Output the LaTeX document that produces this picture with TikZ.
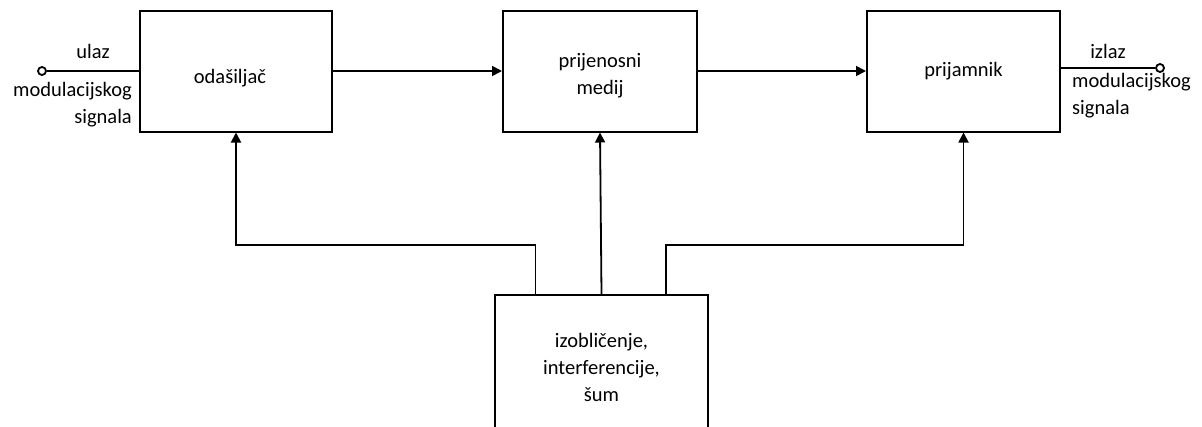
\documentclass[tikz,border=0pt]{standalone}
\usepackage{fontspec}
\setmainfont{Carlito}
\usetikzlibrary{arrows.meta}

\begin{document}
\begin{tikzpicture}[x=1pt,y=1pt,
		blok/.style={draw,line width=2pt,align=center,minimum width=192pt,minimum height=121pt,inner sep=0pt},
		veza/.style={line width=1.8pt,-{Triangle[length=10pt,width=10pt]}},
		oznaka/.style={inner sep=0pt,align=center}]
	\useasboundingbox (0,0) rectangle (1202,-426);
	\clip (0,0) rectangle (1202,-426);
	\fontsize{20.5}{27}\selectfont

	\node[blok] (odas) at (236,-71) {};
	\node[oznaka] (odastxt) at ([shift={(-6,-7)}]odas.center) {odašiljač};
	\node[blok,minimum width=194pt] (medij) at (600,-71) {};
	\node[oznaka] (medijtxt) at ([yshift=-5pt]medij.center) {prijenosni\\medij};
	\node[blok,minimum width=193pt] (prij) at (963.5,-71) {prijamnik};
	\node[blok,minimum width=213pt,minimum height=150pt] (smet) at (601.5,-370) {};
	\node[oznaka] (smettxt) at ([yshift=3pt]smet.center) {izobličenje,\\interferencije,\\šum};

	\node[circle,draw,line width=1.8pt,fill=white,inner sep=0pt,minimum size=8pt] (ulaz) at (42,-71) {};
	\node[circle,draw,line width=1.8pt,fill=white,inner sep=0pt,minimum size=8pt] (izlaz) at (1160,-68) {};

	\node[oznaka] (ulaztxt) at (93,-51) {ulaz};
	\node[oznaka,align=right,anchor=east] (ulazsig) at (132,-105) {modulacijskog\\signala};
	\node[oznaka] (izlaztxt) at (1108,-51) {izlaz};
	\node[oznaka,align=left,anchor=west] (izlazsig) at (1072,-96) {modulacijskog\\signala};

	\draw[line width=1.8pt] (ulaz) -- (odas.west);
	\draw[line width=1.8pt] (prij.east |- izlaz) -- (izlaz);
	\draw[veza] (odas) -- (medij);
	\draw[veza] (medij) -- (prij);

	% smetnje prema svim blokovima
	\draw[veza] ([xshift=-66pt]smet.north) -- ++(0,49) -| (odas.south);
	\draw[veza] (smet.north) -- (medij.south);
	\draw[veza] ([xshift=64.5pt]smet.north) -- ++(0,49) -| (prij.south);
\end{tikzpicture}
\end{document}
